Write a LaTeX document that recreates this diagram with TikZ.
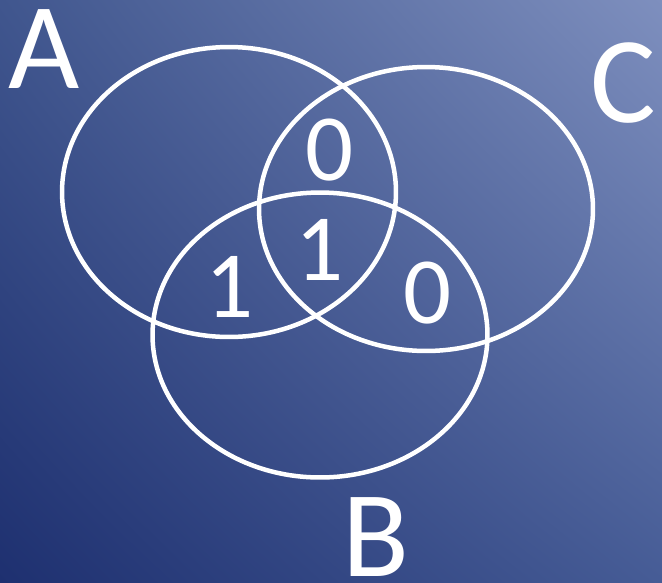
\documentclass[tikz,border=0pt]{standalone}
\usepackage{fontspec}
\setmainfont{Carlito}
\usetikzlibrary{shadings}
\definecolor{fondoUL}{RGB}{64,86,142}
\definecolor{fondoUR}{RGB}{126,143,190}
\definecolor{fondoLL}{RGB}{30,48,112}
\definecolor{fondoLR}{RGB}{70,92,150}
\begin{document}
\begin{tikzpicture}[
    x=0.02cm, y=-0.02cm,
    conjunto/.style={draw=white, line width=0.09cm},
    letra/.style={text=white, inner sep=0pt, font=\fontsize{70}{70}\selectfont},
    valor/.style={text=white, inner sep=0pt, font=\fontsize{54}{54}\selectfont}
]
    % --- FONDO ---
    \useasboundingbox (0,0) rectangle (662,582);
    \shade[upper left=fondoUL, upper right=fondoUR,
           lower left=fondoLL, lower right=fondoLR]
        (0,0) rectangle (662,582);

    % --- CONJUNTOS ---
    \draw[conjunto] (229,192) ellipse [x radius=3.34cm, y radius=2.9cm];
    \draw[conjunto] (426,209) ellipse [x radius=3.34cm, y radius=2.84cm];
    \draw[conjunto] (320,335) ellipse [x radius=3.35cm, y radius=2.85cm];

    % --- NOMBRES ---
    \node[letra] (A) at (44,49) {A};
    \node[letra] (C) at (623,83) {C};
    \node[letra] (B) at (376,537) {B};

    % --- VALORES ---
    \node[valor] (vAC) at (330,150) {0};
    \node[valor] (vABC) at (320,250) {1};
    \node[valor] (vAB) at (230,287) {1};
    \node[valor] (vBC) at (428,293) {0};
\end{tikzpicture}
\end{document}
